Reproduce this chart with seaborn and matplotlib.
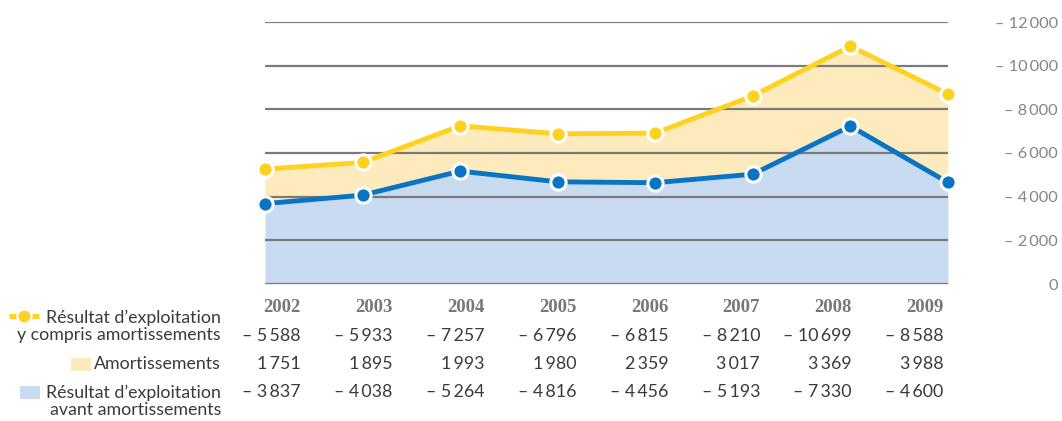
import matplotlib
matplotlib.use("Agg")
import matplotlib.pyplot as plt
from matplotlib.lines import Line2D
from matplotlib.patches import Rectangle
import seaborn as sns
import pandas as pd
import numpy as np

# ---- data ----
years = ["2002", "2003", "2004", "2005", "2006", "2007", "2008", "2009"]
# values as drawn in the chart
total_drawn = [5260, 5570, 7245, 6880, 6910, 8620, 10890, 8700]
before_drawn = [3680, 4070, 5170, 4680, 4640, 5030, 7230, 4650]
# values printed in the table
total_tab = ["– 5 588", "– 5 933", "– 7 257", "– 6 796", "– 6 815", "– 8 210", "– 10 699", "– 8 588"]
amort_tab = ["1 751", "1 895", "1 993", "1 980", "2 359", "3 017", "3 369", "3 988"]
before_tab = ["– 3 837", "– 4 038", "– 5 264", "– 4 816", "– 4 456", "– 5 193", "– 7 330", "– 4 600"]
yticks = [0, 2000, 4000, 6000, 8000, 10000, 12000]
ytick_labels = ["0", "– 2 000", "– 4 000", "– 6 000", "– 8 000", "– 10 000", "– 12 000"]
row_labels = ["Résultat d’exploitation\ny compris amortissements", "Amortissements",
              "Résultat d’exploitation\navant amortissements"]

TS = "\u2009"
total_tab = [s.replace(" ", TS).replace("–" + TS, "– ") for s in total_tab]
amort_tab = [s.replace(" ", TS) for s in amort_tab]
before_tab = [s.replace(" ", TS).replace("–" + TS, "– ") for s in before_tab]
ytick_labels = [s.replace(" ", TS).replace("–" + TS, "– ") for s in ytick_labels]

sns.set_theme(style="white")
plt.rcParams["font.family"] = ["Lato", "DejaVu Sans"]

W, H = 1062, 421
fig = plt.figure(figsize=(W / 100, H / 100), dpi=100)
ax = fig.add_axes([265 / W, 1 - 284 / H, (948 - 265) / W, (284 - 22) / H])

YEL = "#FFD21F"
YEL_FILL = "#FDEBBE"
BLUE = "#0A74C4"
BLUE_FILL = "#C9DBF0"
GRID = "#7a7a7a"

df = pd.DataFrame({"x": np.arange(len(years)), "total": total_drawn, "before": before_drawn})

ax.fill_between(df["x"], 0, df["before"], color=BLUE_FILL, lw=0, zorder=1)
ax.fill_between(df["x"], df["before"], df["total"], color=YEL_FILL, lw=0, zorder=1)

sns.lineplot(data=df, x="x", y="total", ax=ax, color=YEL, lw=3.5, marker="o",
             markersize=11, markeredgecolor="white", markeredgewidth=2.2, zorder=4, clip_on=False)
sns.lineplot(data=df, x="x", y="before", ax=ax, color=BLUE, lw=3.5, marker="o",
             markersize=11, markeredgecolor="white", markeredgewidth=2.2, zorder=4, clip_on=False)

ax.set_xlim(0, len(years) - 1)
ax.set_ylim(0, 12000)
ax.set_yticks(yticks)
ax.set_axisbelow(False)
ax.yaxis.grid(True, color=GRID, lw=1.6, zorder=2.5)
ax.xaxis.grid(False)
for s in ax.spines.values():
    s.set_visible(False)
ax.set_xticks([])
ax.set_xlabel("")
ax.set_ylabel("")
ax.yaxis.tick_right()
ax.set_yticklabels(ytick_labels)
ax.tick_params(axis="y", length=0, pad=79, labelsize=11.8, labelcolor="#858585")
for lab in ax.get_yticklabels():
    lab.set_horizontalalignment("right")

# ---- table below ----
TXT = "#3a3a3a"
col_right = [301 + i * 91.8 for i in range(len(years))]
def fy(py):
    return 1 - py / H

for i, yr in enumerate(years):
    fig.text(col_right[i] / W, fy(308), yr, ha="right", va="center", fontsize=13.5,
             fontweight="bold", color="#777777", family=["Liberation Serif", "DejaVu Serif"])
    fig.text(col_right[i] / W, fy(336), total_tab[i], ha="right", va="center", fontsize=12.8, color=TXT)
    fig.text(col_right[i] / W, fy(364), amort_tab[i], ha="right", va="center", fontsize=12.8, color=TXT)
    fig.text(col_right[i] / W, fy(392), before_tab[i], ha="right", va="center", fontsize=12.8, color=TXT)

fig.text(221 / W, fy(326), row_labels[0], ha="right", va="center", fontsize=12.8, color=TXT,
         linespacing=1.05)
fig.text(221 / W, fy(364), row_labels[1], ha="right", va="center", fontsize=12.8, color=TXT)
fig.text(221 / W, fy(401), row_labels[2], ha="right", va="center", fontsize=12.8, color=TXT,
         linespacing=1.05)

# legend swatches
fig.add_artist(Line2D([9 / W, 16 / W], [fy(316)] * 2, color=YEL, lw=3.6, solid_capstyle="butt"))
fig.add_artist(Line2D([32 / W, 39 / W], [fy(316)] * 2, color=YEL, lw=3.6, solid_capstyle="butt"))
fig.add_artist(Line2D([24 / W], [fy(316)], marker="o", markersize=7.5, color=YEL, lw=0))
fig.add_artist(Rectangle((71 / W, fy(371)), 20 / W, 13 / H, color=YEL_FILL, lw=0))
fig.add_artist(Rectangle((20 / W, fy(399)), 20 / W, 13 / H, color=BLUE_FILL, lw=0))

fig.savefig("out.png", dpi=100)
